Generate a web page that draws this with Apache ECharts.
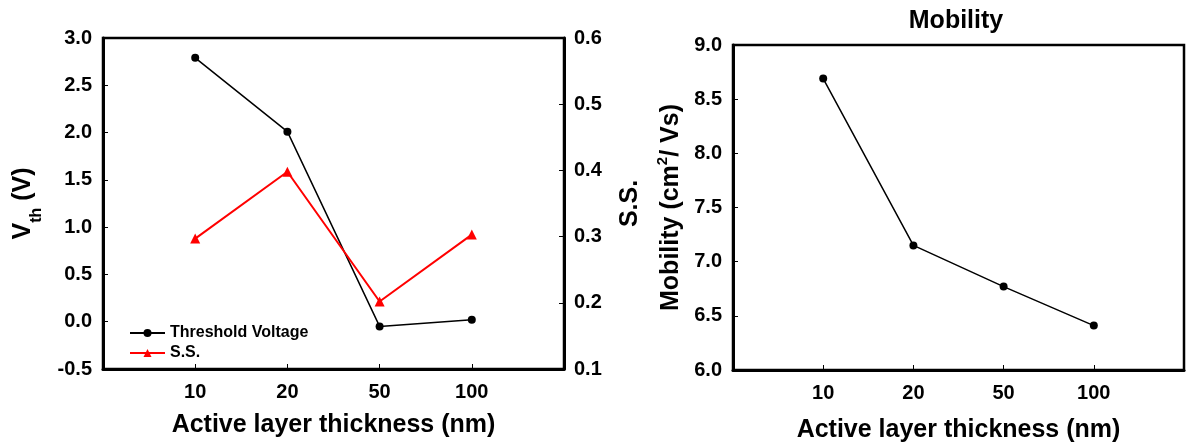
<!DOCTYPE html>
<html>
<head>
<meta charset="utf-8">
<script src="https://cdn.jsdelivr.net/npm/echarts@6/dist/echarts.min.js"></script>
<style>
html,body{margin:0;padding:0;background:#fff;}
#c{width:1187px;height:448px;}
</style>
</head>
<body>
<div id="c"></div>
<script>
// ---- data ----
const categories = ['10', '20', '50', '100'];
const thresholdVoltage = [2.79, 2.01, -0.05, 0.02];
const subthresholdSwing = [0.297, 0.398, 0.202, 0.303];
const mobility = [8.69, 7.15, 6.77, 6.41];
const seriesNames = ['Threshold Voltage', 'S.S.'];
const xTitle = 'Active layer thickness (nm)';
const rightTitle = 'Mobility';

const FONT = '"Liberation Sans", Arial, Helvetica, sans-serif';
const toPairs = arr => arr.map((v, i) => [i + 1, v]);
const catLabel = v => (v >= 1 && v <= categories.length) ? categories[v - 1] : '';

const chart = echarts.init(document.getElementById('c'), null, {renderer: 'canvas'});

const tickLabel = (margin, fmt) => ({
  color: '#000', fontFamily: FONT, fontWeight: 'bold', fontSize: 20,
  margin: margin, formatter: fmt
});
const nameStyle = {color: '#000', fontFamily: FONT, fontWeight: 'bold', fontSize: 25};
const axisLine = {show: true, onZero: false, lineStyle: {color: '#000', width: 3}};
const axisTick = {show: true, inside: true, length: 5, lineStyle: {color: '#000', width: 1}};

function xAxis(gridIndex, gap) {
  return {
    type: 'value', gridIndex: gridIndex, min: 0, max: 5, interval: 1,
    axisLine: axisLine, axisTick: axisTick, splitLine: {show: false},
    axisLabel: tickLabel(13, catLabel),
    name: xTitle, nameLocation: 'middle', nameGap: gap, nameTextStyle: nameStyle
  };
}

const option = {
  animation: false,
  backgroundColor: '#fff',
  title: {
    text: rightTitle, left: 951, top: 4, textAlign: 'center',
    textStyle: {color: '#000', fontFamily: FONT, fontWeight: 'bold', fontSize: 25}
  },
  legend: {
    data: seriesNames, orient: 'vertical', left: 124, top: 320,
    itemWidth: 35, itemHeight: 10, itemGap: 4,
    textStyle: {color: '#000', fontFamily: FONT, fontWeight: 'bold', fontSize: 16}
  },
  grid: [
    {left: 103, top: 38, width: 461, height: 331, show: true, borderColor: '#000', borderWidth: 2.5, containLabel: false},
    {left: 733, top: 45, width: 452, height: 327, show: true, borderColor: '#000', borderWidth: 2.5, containLabel: false}
  ],
  xAxis: [xAxis(0, 44), xAxis(1, 48)],
  yAxis: [
    {
      type: 'value', gridIndex: 0, position: 'left', min: -0.5, max: 3, interval: 0.5,
      axisLine: axisLine, axisTick: axisTick, splitLine: {show: false},
      axisLabel: tickLabel(11, v => v.toFixed(1)),
      name: '{m|V}{s|th}{m| (V)}', nameLocation: 'middle', nameRotate: 90, nameGap: 58,
      nameTextStyle: {rich: {
        m: {color: '#000', fontFamily: FONT, fontWeight: 'bold', fontSize: 25, lineHeight: 44},
        s: {color: '#000', fontFamily: FONT, fontWeight: 'bold', fontSize: 16, lineHeight: 16, verticalAlign: 'bottom'}
      }}
    },
    {
      type: 'value', gridIndex: 0, position: 'right', min: 0.1, max: 0.6, interval: 0.1,
      axisLine: axisLine, axisTick: axisTick, splitLine: {show: false},
      axisLabel: tickLabel(10, v => v.toFixed(1)),
      name: 'S.S.', nameLocation: 'middle', nameRotate: 90, nameGap: 54, nameTextStyle: nameStyle
    },
    {
      type: 'value', gridIndex: 1, position: 'left', min: 6, max: 9, interval: 0.5,
      axisLine: axisLine, axisTick: axisTick, splitLine: {show: false},
      axisLabel: tickLabel(11, v => v.toFixed(1)),
      name: '{m|Mobility (cm}{p|2}{m|/ Vs)}', nameLocation: 'middle', nameRotate: 90, nameGap: 46,
      nameTextStyle: {rich: {
        m: {color: '#000', fontFamily: FONT, fontWeight: 'bold', fontSize: 25, lineHeight: 32},
        p: {color: '#000', fontFamily: FONT, fontWeight: 'bold', fontSize: 15, verticalAlign: 'top'}
      }}
    }
  ],
  series: [
    {
      name: seriesNames[0], type: 'line', xAxisIndex: 0, yAxisIndex: 0,
      data: toPairs(thresholdVoltage),
      symbol: 'circle', symbolSize: 8,
      lineStyle: {color: '#000', width: 1.5}, itemStyle: {color: '#000'}
    },
    {
      name: seriesNames[1], type: 'line', xAxisIndex: 0, yAxisIndex: 1,
      data: toPairs(subthresholdSwing),
      symbol: 'triangle', symbolSize: 10,
      lineStyle: {color: '#ff0000', width: 2}, itemStyle: {color: '#ff0000'}
    },
    {
      name: 'Mobility', type: 'line', xAxisIndex: 1, yAxisIndex: 2,
      data: toPairs(mobility),
      symbol: 'circle', symbolSize: 8,
      lineStyle: {color: '#000', width: 1.5}, itemStyle: {color: '#000'}
    }
  ]
};
chart.setOption(option);
</script>
</body>
</html>
